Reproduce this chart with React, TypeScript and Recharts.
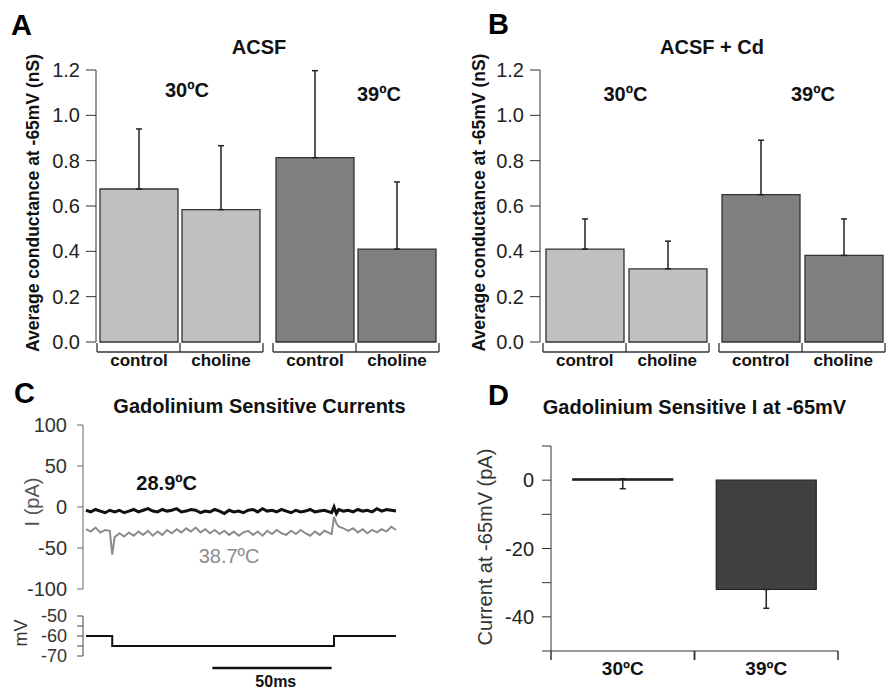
import React from 'react';
import {
  BarChart,
  Bar,
  XAxis,
  YAxis,
  ErrorBar,
  Cell,
  LineChart,
  Line,
  ReferenceLine,
} from 'recharts';

const FONT = '"Liberation Sans", Arial, Helvetica, sans-serif';

// ---------- Panels A & B ----------
const temps = ['30ºC', '39ºC'];
const conditions = ['control', 'choline'];
const acsfControl = [0.675, 0.813];
const acsfControlErr = [0.265, 0.384];
const acsfCholine = [0.584, 0.41];
const acsfCholineErr = [0.282, 0.296];
const cdControl = [0.41, 0.65];
const cdControlErr = [0.133, 0.24];
const cdCholine = [0.323, 0.382];
const cdCholineErr = [0.122, 0.161];
const conductanceTicks = [0, 0.2, 0.4, 0.6, 0.8, 1.0, 1.2];

// ---------- Panel C ----------
const traceTimeMs = [
  0, 2, 4, 6, 8, 10, 11, 12, 14, 16,
  18, 20, 22, 24, 26, 28, 30, 32, 34, 36,
  38, 40, 42, 44, 46, 48, 50, 52, 54, 56,
  58, 60, 62, 64, 66, 68, 70, 72, 74, 76,
  78, 80, 82, 84, 86, 88, 90, 92, 94, 96,
  98, 100, 103, 104, 105, 106, 108, 110, 112, 114,
  116, 118, 120, 122, 124, 126, 128, 130,
];
const current289 = [
  -4, -6, -3, -5, -7, -4, -5, -6, -4, -7,
  -5, -3, -6, -4, -2, -5, -6, -3, -5, -4,
  -2, -6, -5, -3, -4, -7, -5, -6, -3, -5,
  -8, -4, -6, -5, -7, -4, -3, -6, -2, -5,
  -4, -6, -3, -5, -7, -4, -6, -5, -3, -6,
  -5, -4, -7, 0, -8, -3, -5, -4, -6, -3,
  -5, -4, -6, -2, -5, -3, -4, -5,
];
const current387 = [
  -27, -30, -25, -31, -28, -29, -58, -37, -32, -36,
  -31, -35, -30, -34, -29, -35, -30, -34, -28, -32,
  -27, -31, -26, -30, -25, -31, -27, -32, -28, -33,
  -29, -34, -30, -35, -31, -29, -34, -30, -35, -29,
  -33, -28, -32, -34, -29, -33, -28, -32, -35, -30,
  -34, -29, -33, -12, -20, -24, -26, -29, -26, -31,
  -27, -32, -28, -31, -27, -30, -24, -28,
];
const currentTicks = [-100, -50, 0, 50, 100];
const stepTimeMs = [0, 11, 104, 130];
const stepMv = [-60, -65, -60, -60];
const mvTicks = [-70, -65, -60, -55, -50];
const mvLabelled = [-70, -60, -50];
const scaleBarMs = [53, 103];
const scaleBarMv = -76;

// ---------- Panel D ----------
const gdTemps = ['30ºC', '39ºC'];
const gdCurrent = [0.4, -32];
const gdErrDown = [2.9, 5.5];
const gdTicks = [-50, -40, -30, -20, -10, 0, 10];
const gdLabelled = [0, -20, -40];

// ---------- derived tables ----------
const buildCond = (ctl: number[], ctlErr: number[], cho: number[], choErr: number[]) =>
  temps.map((t, i) => ({
    temp: t,
    control: ctl[i],
    controlErr: [0, ctlErr[i]],
    choline: cho[i],
    cholineErr: [0, choErr[i]],
  }));
const acsfData = buildCond(acsfControl, acsfControlErr, acsfCholine, acsfCholineErr);
const cdData = buildCond(cdControl, cdControlErr, cdCholine, cdCholineErr);
const traceData = traceTimeMs.map((t, i) => ({ t, low: current289[i], high: current387[i] }));
const stepData = stepTimeMs.map((t, i) => ({ t, mv: stepMv[i] }));
const gdData = gdTemps.map((t, i) => ({ temp: t, current: gdCurrent[i], err: [gdErrDown[i], 0] }));

const groupFills = ['#c0c0c0', '#808080'];
const AXIS = '#333';

const BAND = 176;
const CAT_GAP = 8;

const makeGroupTick = (gap: number) => (props: any) => {
  const { x, y } = props;
  const seg = BAND / 2 - 5;
  const barW = (BAND - 2 * CAT_GAP - gap) / 2;
  const off = gap / 2 + barW / 2;
  return (
    <g>
      <line x1={x - seg} x2={x + seg} y1={y + 10} y2={y + 10} stroke={AXIS} strokeWidth={1.3} />
      <line x1={x - seg} x2={x - seg} y1={y + 1} y2={y + 10} stroke={AXIS} strokeWidth={1.3} />
      <line x1={x} x2={x} y1={y + 1} y2={y + 10} stroke={AXIS} strokeWidth={1.3} />
      <line x1={x + seg} x2={x + seg} y1={y + 1} y2={y + 10} stroke={AXIS} strokeWidth={1.3} />
      <text x={x - off} y={y + 24} textAnchor="middle" fontFamily={FONT} fontWeight="bold" fontSize={17} fill="#111">
        {conditions[0]}
      </text>
      <text x={x + off} y={y + 24} textAnchor="middle" fontFamily={FONT} fontWeight="bold" fontSize={17} fill="#111">
        {conditions[1]}
      </text>
    </g>
  );
};

function CondPanel(props: {
  data: any[];
  yWidth: number;
  padLeft: number;
  marginRight: number;
  gap: number;
  width: number;
}) {
  const { data, yWidth, padLeft, marginRight, gap, width } = props;
  return (
    <BarChart
      width={width}
      height={380}
      data={data}
      margin={{ top: 70, right: marginRight, bottom: 8, left: 0 }}
      barCategoryGap={CAT_GAP}
      barGap={gap}
    >
      <XAxis
        dataKey="temp"
        height={30}
        tickSize={0}
        tickMargin={0}
        axisLine={false}
        tickLine={false}
        padding={{ left: padLeft, right: 0 }}
        tick={makeGroupTick(gap)}
        interval={0}
      />
      <YAxis
        width={yWidth}
        domain={[0, 1.2]}
        ticks={conductanceTicks}
        interval={0}
        tickFormatter={(v: number) => v.toFixed(1)}
        tickSize={10}
        tickMargin={6}
        stroke={AXIS}
        tick={{ fontSize: 20, fill: '#222', fontFamily: FONT }}
      />
      <Bar dataKey="control" stroke={AXIS} strokeWidth={1.3} isAnimationActive={false}>
        {data.map((_, i) => (
          <Cell key={i} fill={groupFills[i]} />
        ))}
        <ErrorBar dataKey="controlErr" width={3} stroke="#222" strokeWidth={1.5} direction="y" />
      </Bar>
      <Bar dataKey="choline" stroke={AXIS} strokeWidth={1.3} isAnimationActive={false}>
        {data.map((_, i) => (
          <Cell key={i} fill={groupFills[i]} />
        ))}
        <ErrorBar dataKey="cholineErr" width={3} stroke="#222" strokeWidth={1.5} direction="y" />
      </Bar>
    </BarChart>
  );
}

const D_BAND = (398 - 111) / 2;
const DTick = (props: any) => {
  const { x, y, payload } = props;
  const h = D_BAND / 2;
  return (
    <g>
      <line x1={x - h} x2={x - h} y1={y} y2={y + 9} stroke={AXIS} strokeWidth={1.5} />
      <line x1={x + h} x2={x + h} y1={y} y2={y + 9} stroke={AXIS} strokeWidth={1.5} />
      <text x={x} y={y + 24} textAnchor="middle" fontFamily={FONT} fontWeight="bold" fontSize={19} fill="#111">
        {payload.value}
      </text>
    </g>
  );
};

export default function App() {
  const abs = (left: number, top: number): React.CSSProperties => ({ position: 'absolute', left, top });
  return (
    <div
      style={{
        position: 'absolute',
        left: 0,
        top: 0,
        width: 891,
        height: 690,
        background: '#fff',
        fontFamily: FONT,
        overflow: 'hidden',
      }}
    >
      {/* Panel A */}
      <div style={abs(0, 0)}>
        <CondPanel data={acsfData} yWidth={96} padLeft={-4} marginRight={6} gap={4} width={450} />
      </div>
      {/* Panel B */}
      <div style={abs(440, 0)}>
        <CondPanel data={cdData} yWidth={100} padLeft={-2} marginRight={1} gap={5} width={451} />
      </div>

      {/* Panel C - currents */}
      <div style={abs(0, 400)}>
        <LineChart width={450} height={200} data={traceData} margin={{ top: 25, right: 54, bottom: 11, left: 0 }}>
          <XAxis dataKey="t" type="number" domain={[0, 130]} hide padding={{ left: 3, right: 0 }} />
          <YAxis
            width={83}
            domain={[-100, 100]}
            ticks={currentTicks}
            interval={0}
            tickSize={6}
            tickMargin={10}
            stroke="#666"
            tick={{ fontSize: 20, fill: '#333', fontFamily: FONT }}
          />
          <Line dataKey="high" stroke="#8c8c8c" strokeWidth={2} dot={false} isAnimationActive={false} type="linear" />
          <Line dataKey="low" stroke="#111" strokeWidth={3} dot={false} isAnimationActive={false} type="linear" />
        </LineChart>
      </div>

      {/* Panel C - voltage command */}
      <div style={abs(0, 600)}>
        <LineChart width={450} height={90} data={stepData} margin={{ top: 16, right: 54, bottom: 34, left: 0 }}>
          <XAxis dataKey="t" type="number" domain={[0, 130]} hide padding={{ left: 3, right: 0 }} />
          <YAxis
            width={83}
            domain={[-70, -50]}
            ticks={mvTicks}
            interval={0}
            tickFormatter={(v: number) => (mvLabelled.includes(v) ? String(v) : '')}
            tickSize={6}
            tickMargin={10}
            stroke="#444"
            tick={{ fontSize: 18, fill: '#333', fontFamily: FONT }}
          />
          <Line dataKey="mv" type="stepAfter" stroke="#111" strokeWidth={2} dot={false} isAnimationActive={false} />
          <ReferenceLine
            segment={[
              { x: scaleBarMs[0], y: scaleBarMv },
              { x: scaleBarMs[1], y: scaleBarMv },
            ]}
            ifOverflow="visible"
            stroke="#111"
            strokeWidth={2.5}
          />
        </LineChart>
      </div>

      {/* Panel D */}
      <div style={abs(440, 400)}>
        <BarChart
          width={451}
          height={290}
          data={gdData}
          margin={{ top: 46, right: 53, bottom: 9, left: 0 }}
          barCategoryGap={(D_BAND - 100) / 2}
        >
          <XAxis
            dataKey="temp"
            height={30}
            tickSize={0}
            tickMargin={0}
            tickLine={false}
            stroke={AXIS}
            tick={DTick}
            interval={0}
          />
          <YAxis
            width={111}
            domain={[-50, 10]}
            ticks={gdTicks}
            interval={0}
            tickFormatter={(v: number) => (gdLabelled.includes(v) ? String(v) : '')}
            tickSize={9}
            tickMargin={8}
            stroke={AXIS}
            tick={{ fontSize: 20, fill: '#222', fontFamily: FONT }}
          />
          <Bar dataKey="current" fill="#404040" stroke="#222" strokeWidth={1.2} isAnimationActive={false}>
            <ErrorBar dataKey="err" width={3} stroke="#222" strokeWidth={1.5} direction="y" />
          </Bar>
        </BarChart>
      </div>

      {/* Annotations */}
      <svg
        width={891}
        height={690}
        style={{ position: 'absolute', left: 0, top: 0, pointerEvents: 'none' }}
        fontFamily={FONT}
      >
        <text x={11} y={35} fontSize={29} fontWeight={900} fill="#000">A</text>
        <text x={488} y={34} fontSize={29} fontWeight={900} fill="#000">B</text>
        <text x={14} y={403} fontSize={29} fontWeight={900} fill="#000">C</text>
        <text x={488} y={405} fontSize={29} fontWeight={900} fill="#000">D</text>

        <text x={259} y={53.5} fontSize={20} fontWeight="bold" textAnchor="middle" fill="#111">ACSF</text>
        <text x={712} y={53.5} fontSize={20} fontWeight="bold" textAnchor="middle" fill="#111">ACSF + Cd</text>
        <text x={259.5} y={413} fontSize={20} fontWeight="bold" textAnchor="middle" fill="#111">Gadolinium Sensitive Currents</text>
        <text x={694.5} y={414} fontSize={20} fontWeight="bold" textAnchor="middle" fill="#111">Gadolinium Sensitive I at -65mV</text>

        <text x={187} y={97} fontSize={20} fontWeight="bold" textAnchor="middle" fill="#111">{temps[0]}</text>
        <text x={379} y={101} fontSize={20} fontWeight="bold" textAnchor="middle" fill="#111">{temps[1]}</text>
        <text x={625.5} y={101} fontSize={20} fontWeight="bold" textAnchor="middle" fill="#111">{temps[0]}</text>
        <text x={813} y={101} fontSize={20} fontWeight="bold" textAnchor="middle" fill="#111">{temps[1]}</text>

        <text
          x={32.5}
          y={203}
          fontSize={17.5}
          fontWeight="bold"
          textAnchor="middle"
          dominantBaseline="central"
          transform="rotate(-90 32.5 203)"
          fill="#111"
        >
          Average conductance at -65mV (nS)
        </text>
        <text
          x={479}
          y={202.5}
          fontSize={17.5}
          fontWeight="bold"
          textAnchor="middle"
          dominantBaseline="central"
          transform="rotate(-90 479 202.5)"
          fill="#111"
        >
          Average conductance at -65mV (nS)
        </text>

        <text
          x={31.7}
          y={502}
          fontSize={20}
          textAnchor="middle"
          dominantBaseline="central"
          transform="rotate(-90 31.7 502)"
          fill="#555"
        >
          I (pA)
        </text>
        <text
          x={21}
          y={633}
          fontSize={18}
          textAnchor="middle"
          dominantBaseline="central"
          transform="rotate(-90 21 633)"
          fill="#333"
        >
          mV
        </text>
        <text
          x={485}
          y={547}
          fontSize={20}
          textAnchor="middle"
          dominantBaseline="central"
          transform="rotate(-90 485 547)"
          fill="#333"
        >
          Current at -65mV (pA)
        </text>

        <text x={166.7} y={490} fontSize={20} fontWeight="bold" textAnchor="middle" fill="#111">28.9ºC</text>
        <text x={229} y={562.5} fontSize={20} textAnchor="middle" fill="#8c8c8c">38.7ºC</text>
        <text x={275.8} y={687} fontSize={16} fontWeight="bold" textAnchor="middle" fill="#111">50ms</text>
      </svg>
    </div>
  );
}
